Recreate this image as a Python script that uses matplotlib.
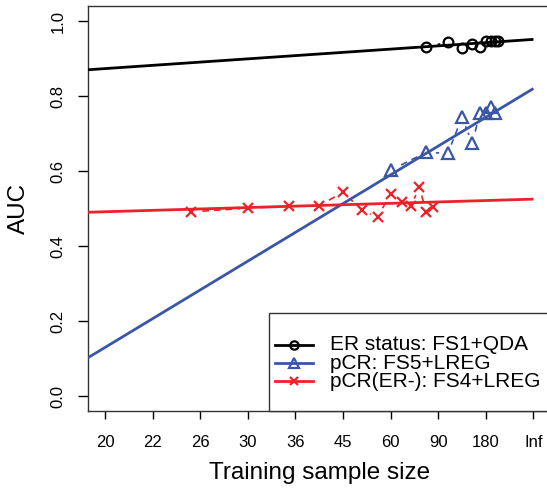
import numpy as np
import matplotlib.pyplot as plt
from matplotlib.patches import Rectangle

plt.rcParams['font.family'] = ['Liberation Sans', 'DejaVu Sans']

# training sizes and AUC values
n_er = [80, 100, 120, 140, 160, 180, 200, 220, 240]
auc_er = [0.930, 0.944, 0.928, 0.939, 0.932, 0.948, 0.946, 0.946, 0.946]

n_pcr = [60, 80, 100, 120, 140, 160, 180, 200, 220]
auc_pcr = [0.602, 0.650, 0.647, 0.743, 0.674, 0.754, 0.756, 0.770, 0.756]

n_neg = [25, 30, 35, 40, 45, 50, 55, 60, 65, 70, 75, 80, 85]
auc_neg = [0.491, 0.501, 0.506, 0.507, 0.544, 0.495, 0.477, 0.540, 0.517,
           0.506, 0.557, 0.491, 0.504]

# fitted learning curves: auc = a + b/n
fit_a = [0.951, 0.820, 0.525]
fit_b = [-1.558, -13.81, -0.673]

tick_labels = ['20', '22', '26', '30', '36', '45', '60', '90', '180', 'Inf']
tick_pos = np.arange(9, -1, -1) / 180.0

names = ['ER status: FS1+QDA', 'pCR: FS5+LREG', 'pCR(ER-): FS4+LREG']
cols = ['black', '#3a56a6', '#ec2229']
marks = ['o', '^', 'x']
msz = [7, 8.5, 7]

fig = plt.figure(figsize=(5.47, 4.92), dpi=100)
ax = fig.add_axes([0.1603, 0.1646, 0.8466, 0.8232])

data = [(n_er, auc_er), (n_pcr, auc_pcr), (n_neg, auc_neg)]
for i, (n, a) in enumerate(data):
    x = 1.0 / np.array(n)
    ax.plot(x, a, ls=(0, (4, 3)), color=cols[i], lw=1.2, zorder=1)
    ax.plot(x, a, ls='none', marker='o', ms=msz[i] + 4, mfc='white',
            mec='white', zorder=2)
for i, (n, a) in enumerate(data):
    x = 1.0 / np.array(n)
    ax.plot(x, a, ls='none', marker=marks[i], ms=msz[i], mfc='none',
            mec=cols[i], mew=1.6, zorder=3)

xx = np.array([0.06, 0.0])
for i in range(3):
    ax.plot(xx, fit_a[i] + fit_b[i] * xx, color=cols[i], lw=2, zorder=4,
            solid_capstyle='butt')

ax.set_xlim(0.05202, -0.00202)
ax.set_ylim(-0.04, 1.04)
ax.set_xticks(tick_pos)
ax.set_xticklabels(tick_labels)
ax.set_yticks([0, 0.2, 0.4, 0.6, 0.8, 1.0])
ax.set_yticklabels(['0.0', '0.2', '0.4', '0.6', '0.8', '1.0'])
ax.tick_params(axis='x', length=6, width=1, pad=11, labelsize=12)
ax.tick_params(axis='y', length=7, width=1, pad=9, labelsize=12,
               labelrotation=90)
for t in ax.get_yticklabels():
    t.set_va('center')
for s in ax.spines.values():
    s.set_linewidth(1.0)
    s.set_color('#333333')

ax.set_xlabel('Training sample size', fontsize=17.5)
ax.set_ylabel('AUC', fontsize=17.5)
ax.xaxis.set_label_coords(0.5, -0.125)
ax.yaxis.set_label_coords(-0.125, 0.5)

# legend box, drawn by hand
ax.add_patch(Rectangle((0.3915, 0.0), 0.7, 0.242, transform=ax.transAxes,
                       facecolor='white', edgecolor='#333333', lw=1,
                       zorder=5, clip_on=False))
row_y = [0.163, 0.1185, 0.0741]
for i in range(3):
    ax.plot([0.4045, 0.4866], [row_y[i], row_y[i]], color=cols[i], lw=2,
            transform=ax.transAxes, clip_on=False, zorder=6)
    ax.plot([0.4455], [row_y[i]], ls='none', marker=marks[i],
            ms=msz[i] - 1, mfc='none', mec=cols[i], mew=1.6,
            transform=ax.transAxes, clip_on=False, zorder=7)
    ax.text(0.5232, row_y[i], names[i], fontsize=15, va='center',
            ha='left', transform=ax.transAxes, zorder=7)

fig.savefig('out.png', dpi=100)
